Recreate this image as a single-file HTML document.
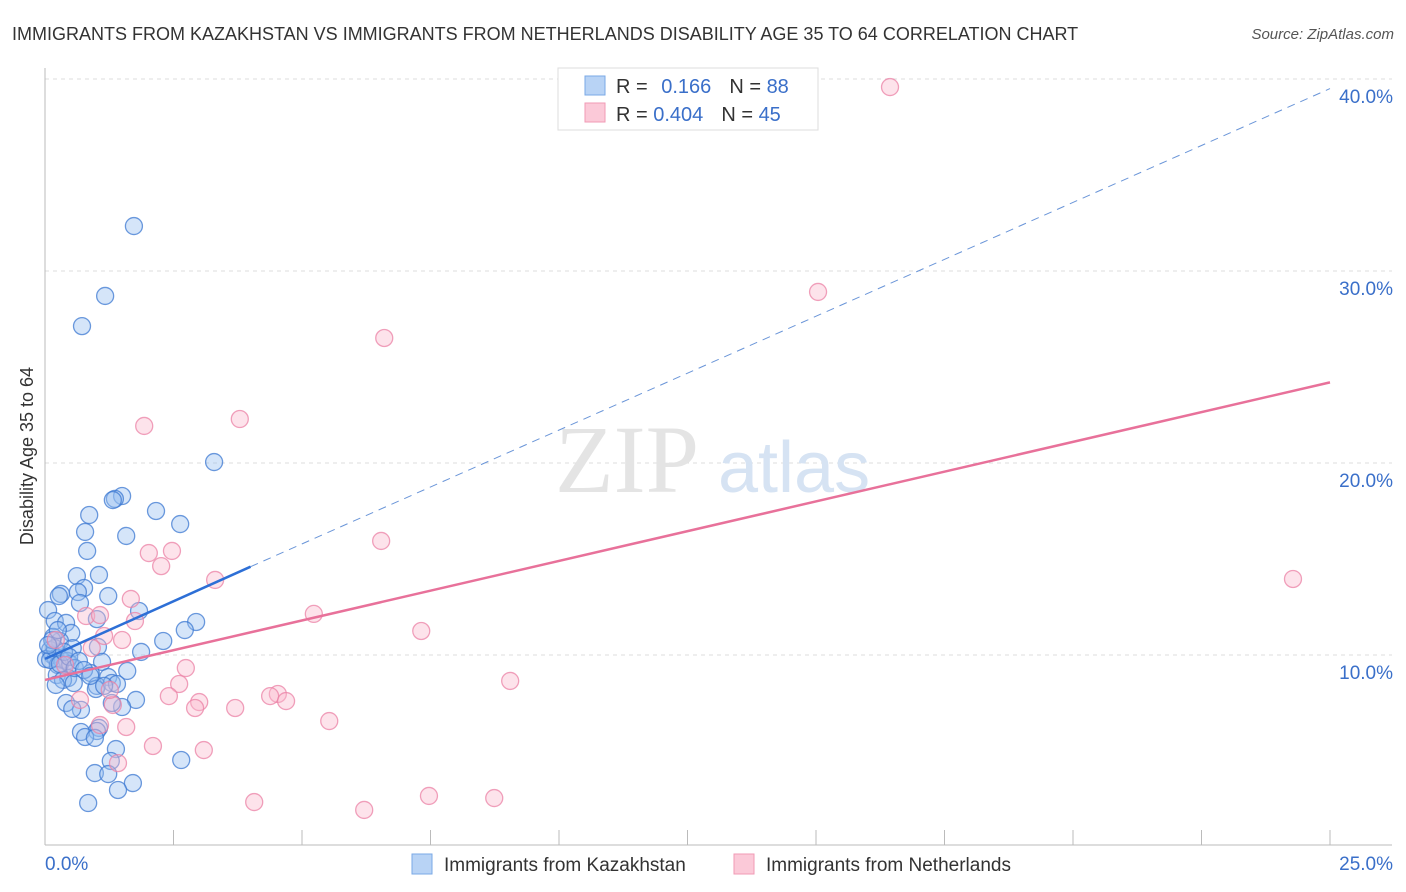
<!DOCTYPE html>
<html><head><meta charset="utf-8"><style>
body{margin:0;background:#fff;font-family:"Liberation Sans",sans-serif;}
svg{display:block}
</style></head><body>
<svg id="chart" width="1406" height="892">
<text x="12" y="40" font-size="18" fill="#333">IMMIGRANTS FROM KAZAKHSTAN VS IMMIGRANTS FROM NETHERLANDS DISABILITY AGE 35 TO 64 CORRELATION CHART</text>
<text x="1394" y="39" font-size="15" fill="#555" font-style="italic" text-anchor="end">Source: ZipAtlas.com</text>
<text x="0" y="0" transform="translate(33,456) rotate(-90)" font-size="18" fill="#333" text-anchor="middle">Disability Age 35 to 64</text>
<g id="grid"></g>
<text x="555" y="492" font-size="96" fill="#e4e4e4" font-family="Liberation Serif">ZIP</text>
<text x="718" y="492" font-size="72" fill="#d6e3f3">atlas</text>
<g id="axes"></g>
<g id="pts"></g>
<g id="lines"></g>
<g>
<rect x="558" y="68" width="260" height="62" fill="#fff" stroke="#ddd"/>
<rect x="585" y="76" width="20" height="19" fill="#b8d3f5" stroke="#7aa8e6"/>
<rect x="585" y="103" width="20" height="19" fill="#fbc9d8" stroke="#f09ab5"/>
<text x="616" y="93" font-size="20" fill="#333">R = <tspan fill="#3a6fc9" dx="8">0.166</tspan><tspan dx="18" fill="#333">N = </tspan><tspan fill="#3a6fc9">88</tspan></text>
<text x="616" y="121" font-size="20" fill="#333">R = <tspan fill="#3a6fc9">0.404</tspan><tspan dx="18" fill="#333">N = </tspan><tspan fill="#3a6fc9">45</tspan></text>
</g>
<g>
<rect x="412" y="854" width="20" height="20" fill="#b8d3f5" stroke="#7aa8e6"/>
<text x="444" y="871" font-size="19" fill="#333">Immigrants from Kazakhstan</text>
<rect x="734" y="854" width="20" height="20" fill="#fbc9d8" stroke="#f09ab5"/>
<text x="766" y="871" font-size="19" fill="#333">Immigrants from Netherlands</text>
</g>
</svg>
<script>
const xTicks=[0,2.5,5,7.5,10,12.5,15,17.5,20,22.5,25];
const yTicks=[10,20,30,40];
const yTickLabels=["10.0%","20.0%","30.0%","40.0%"];
const xEndLabels=["0.0%","25.0%"];
const blueX=[1.73,1.17,0.72,3.29,1.50,1.36,1.32,2.16,2.63,0.86,1.58,0.78,0.82,0.62,1.05,0.76,0.31,0.27,0.64,1.23,0.68,1.83,0.06,2.94,2.72,1.01,0.19,0.41,0.16,0.51,0.29,1.03,2.30,0.54,1.87,0.10,0.14,0.21,0.33,0.43,0.02,0.25,0.49,1.11,1.60,0.89,0.23,0.45,0.35,1.23,0.56,1.01,0.99,1.30,1.40,1.15,0.21,0.41,1.77,1.50,0.70,0.53,1.30,1.05,1.01,0.70,0.78,0.97,1.38,2.65,1.28,0.97,1.23,1.71,1.42,0.84,0.10,0.19,0.29,0.37,0.47,0.58,0.66,0.76,0.88,0.14,0.06,0.25];
const blueY=[32.34,28.70,27.13,20.05,18.28,18.13,18.07,17.50,16.82,17.29,16.20,16.41,15.42,14.11,14.17,13.49,13.18,13.07,13.28,13.07,12.71,12.29,12.34,11.72,11.30,11.87,11.77,11.67,10.94,11.15,10.73,10.42,10.73,10.36,10.16,10.26,10.00,9.84,9.74,9.69,9.79,9.48,9.53,9.64,9.17,9.06,8.96,8.80,8.70,8.85,8.54,8.39,8.23,8.54,8.49,8.39,8.44,7.50,7.66,7.29,7.14,7.19,7.50,6.20,6.04,5.99,5.73,5.68,5.10,4.53,4.48,3.85,3.80,3.33,2.97,2.29,9.74,10.36,9.53,10.16,9.90,9.32,9.69,9.22,8.91,10.78,10.52,11.30];
const pinkX=[16.44,15.04,6.60,3.79,1.93,6.54,2.02,2.47,2.26,3.31,24.28,1.67,5.23,0.80,1.75,7.32,1.15,1.50,0.91,2.74,9.05,2.61,2.41,4.53,4.38,4.69,3.00,2.92,3.70,1.32,5.53,2.10,3.09,1.42,4.07,6.21,7.47,8.74,1.07,1.58,0.21,0.39,0.68,1.07,1.26];
const pinkY=[39.58,28.91,26.51,22.29,21.93,15.94,15.31,15.42,14.63,13.91,13.96,12.92,12.14,12.03,11.77,11.25,10.99,10.78,10.36,9.32,8.65,8.49,7.86,7.97,7.86,7.60,7.55,7.24,7.24,7.40,6.56,5.26,5.05,4.37,2.34,1.93,2.66,2.55,6.35,6.25,10.78,9.48,7.66,12.08,8.18];
const blueTrend=[[0,9.8],[4.0,14.6],[25,39.5]];
const pinkTrend=[[0,8.7],[25,24.2]];
const NS="http://www.w3.org/2000/svg";
const X=v=>45+v/25*1285, Y=v=>847-v*19.2;
function mk(tag,attrs,parent){const e=document.createElementNS(NS,tag);for(const k in attrs)e.setAttribute(k,attrs[k]);parent.appendChild(e);return e;}
const grid=document.getElementById('grid'),axes=document.getElementById('axes'),pts=document.getElementById('pts'),lines=document.getElementById('lines');
yTicks.forEach((t,i)=>{
 const l=mk('line',{x1:45,x2:1392,y1:Y(t),y2:Y(t),stroke:'#ddd','stroke-dasharray':'4,4'},grid);
 
 
 const tx=mk('text',{x:1393,y:Y(t)+24,'font-size':19,fill:'#3a6fc9','text-anchor':'end'},axes);
 tx.textContent=yTickLabels[i];
 
 
});
const ax=mk('line',{x1:45,x2:1392,y1:845,y2:845,stroke:'#bbb'},axes);


const ay=mk('line',{x1:45,x2:45,y1:68,y2:845,stroke:'#bbb'},axes);


xTicks.forEach(t=>{
 const l=mk('line',{x1:X(t),x2:X(t),y1:830,y2:845,stroke:'#bbb'},axes);
 
 
});
const xl0=mk('text',{x:45,y:870,'font-size':19,fill:'#3a6fc9'},axes);
xl0.textContent=xEndLabels[0];


const xl1=mk('text',{x:1393,y:870,'font-size':19,fill:'#3a6fc9','text-anchor':'end'},axes);
xl1.textContent=xEndLabels[1];


blueX.forEach((v,i)=>{
 const c=mk('circle',{cx:X(v),cy:Y(blueY[i]),r:8.5,fill:'rgba(150,190,240,0.4)',stroke:'rgba(60,120,210,0.75)','stroke-width':1.3},pts);
 
 
});
pinkX.forEach((v,i)=>{
 const c=mk('circle',{cx:X(v),cy:Y(pinkY[i]),r:8.5,fill:'rgba(250,185,205,0.4)',stroke:'rgba(235,130,165,0.75)','stroke-width':1.3},pts);
 
 
});
const b1=mk('line',{x1:X(blueTrend[0][0]),y1:Y(blueTrend[0][1]),x2:X(blueTrend[1][0]),y2:Y(blueTrend[1][1]),stroke:'#2d6fd6','stroke-width':2.5},lines);


const b2=mk('line',{x1:X(blueTrend[1][0]),y1:Y(blueTrend[1][1]),x2:X(blueTrend[2][0]),y2:Y(blueTrend[2][1]),stroke:'#6a95d8','stroke-width':1,'stroke-dasharray':'8,6'},lines);


const p1=mk('line',{x1:X(pinkTrend[0][0]),y1:Y(pinkTrend[0][1]),x2:X(pinkTrend[1][0]),y2:Y(pinkTrend[1][1]),stroke:'#e8719a','stroke-width':2.5},lines);


</script>
</body></html>
